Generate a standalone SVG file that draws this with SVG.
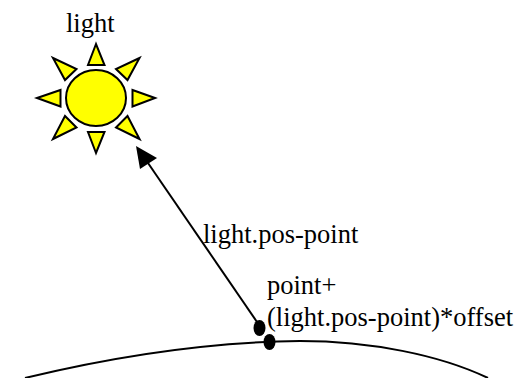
<svg xmlns="http://www.w3.org/2000/svg" width="523" height="378" viewBox="0 0 523 378">
<style>
.s{fill:#ffff00;stroke:#000;stroke-width:2;stroke-linejoin:miter}
.t{font-family:"Liberation Serif","Times New Roman",serif;font-size:26.500px;fill:#000}
.l{fill:none;stroke:#000;stroke-width:2}
</style>
<rect width="523" height="378" fill="#fff"/>
<g id="sun">
<ellipse class="s" cx="96" cy="98" rx="30" ry="28"/>
<polygon class="s" points="96,44 88,65 104.500,65"/>
<polygon class="s" points="96,153 88,132 104.500,132"/>
<polygon class="s" points="37,98 60.500,90 60.500,106.500"/>
<polygon class="s" points="155,98 132.500,90 132.500,106.500"/>
<polygon class="s" points="53,58 76.500,69 65,80"/>
<polygon class="s" points="139.500,58 116,69 127.500,80"/>
<polygon class="s" points="53,139 76.500,127.500 65,116"/>
<polygon class="s" points="139.500,139 116,127.500 127.500,116"/>
</g>
<g id="dots">
<ellipse cx="259.500" cy="328" rx="6" ry="8" fill="#000"/>
<ellipse cx="269.500" cy="342" rx="6" ry="8" fill="#000"/>
</g>
<g id="connectors">
<path class="l" d="M257 322L148 163"/>
<polygon points="136,146 157,158 140,169" fill="#000"/>
<path class="l" d="M25 378C120 355 210 342 300 341C370 341 440 355 488 378"/>
</g>
<g id="labels">
<text class="t" x="66" y="32">light</text>
<text class="t" x="203" y="243">light.pos-point</text>
<text class="t" x="267" y="294">point+</text>
<text class="t" x="267" y="326">(light.pos-point)*offset</text>
</g>
</svg>
